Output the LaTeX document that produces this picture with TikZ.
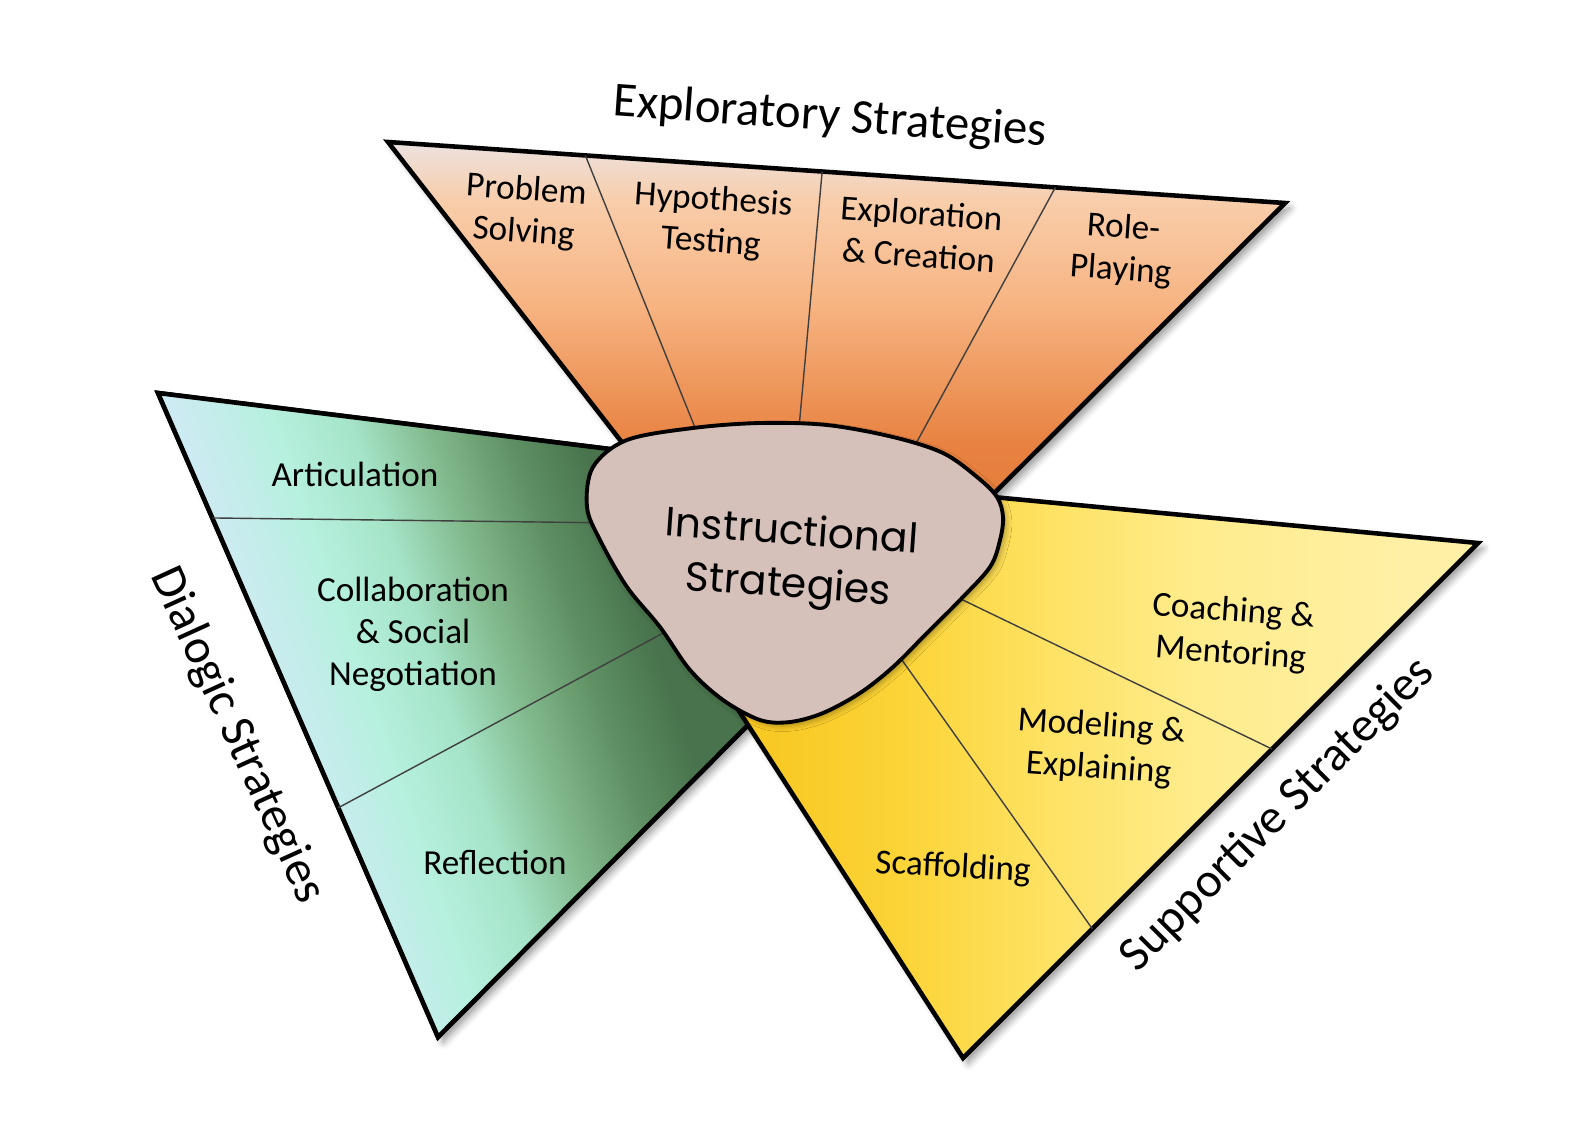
\documentclass[tikz,border=0pt]{standalone}
\usepackage{fontspec}
\setmainfont{Carlito}
\newfontfamily\poppinsfont{Poppins}
\usetikzlibrary{calc,shadows.blur}

\definecolor{orA}{RGB}{222,108,38}
\definecolor{orB}{RGB}{232,130,65}
\definecolor{orC}{RGB}{247,180,130}
\definecolor{orD}{RGB}{248,205,170}
\definecolor{orE}{RGB}{236,226,224}
\definecolor{grA}{RGB}{205,235,242}
\definecolor{grB}{RGB}{182,240,222}
\definecolor{grC}{RGB}{165,228,200}
\definecolor{grD}{RGB}{130,185,140}
\definecolor{grE}{RGB}{95,145,100}
\definecolor{grF}{RGB}{72,115,76}
\definecolor{ywA}{RGB}{248,200,35}
\definecolor{ywB}{RGB}{251,212,55}
\definecolor{ywC}{RGB}{254,226,100}
\definecolor{ywD}{RGB}{255,236,140}
\definecolor{ywE}{RGB}{255,240,165}
\definecolor{hubfill}{RGB}{213,192,186}

\pgfdeclareverticalshading{orangeshade}{100bp}{color(0bp)=(orA); color(25bp)=(orA); color(47bp)=(orB); color(60bp)=(orC); color(69.5bp)=(orD); color(75bp)=(orE); color(100bp)=(orE)}
\pgfdeclarehorizontalshading{greenshade}{100bp}{color(0bp)=(grA); color(40bp)=(grA); color(45bp)=(grB); color(49bp)=(grC); color(53bp)=(grD); color(57bp)=(grE); color(61bp)=(grF); color(100bp)=(grF)}
\pgfdeclarehorizontalshading{yellowshade}{100bp}{color(0bp)=(ywA); color(29bp)=(ywA); color(38bp)=(ywB); color(47.5bp)=(ywC); color(57bp)=(ywD); color(70bp)=(ywE); color(100bp)=(ywE)}

\newcommand\dialogicwing{(gT) -- (650,454) -- (790,683) -- (nk) -- (gB) -- cycle}

\begin{document}
\begin{tikzpicture}[x=0.01cm, y=-0.01cm,
    wing/.style={draw=black, line width=1.3pt, line join=miter,
        blur shadow={shadow xshift=1.5pt, shadow yshift=-1.5pt, shadow blur radius=2pt, shadow opacity=40}},
    sep/.style={draw=black!75, line width=0.4pt},
    lbl/.style={align=center, font=\fontsize{10}{12}\selectfont, inner sep=0pt},
    ttl/.style={font=\fontsize{13.9}{16}\selectfont, inner sep=0pt},
    hub/.style={draw=black, line width=1.1pt, fill=hubfill,
        blur shadow={shadow xshift=1pt, shadow yshift=-1pt, shadow blur radius=1.5pt, shadow opacity=30}}
]
\useasboundingbox (0,0) rectangle (1574,1130);

\coordinate (oL) at (388,142);
\coordinate (oR) at (1285,203);
\coordinate (oT) at (807,680);
\coordinate (gT) at (158,393);
\coordinate (gB) at (438,1037);
\coordinate (nk) at (748,725);
\coordinate (yR) at (1478,543);
\coordinate (yB) at (963,1058);

\path[wing, shade, shading=orangeshade] (oL) -- (oR) -- (oT) -- cycle;

\path[wing, fill=grA] \dialogicwing;
\begin{scope}
  \clip \dialogicwing;
  \shade[shading=greenshade, transform canvas={rotate around={19:(470,715)}}] (20,215) rectangle (920,1215);
\end{scope}
\draw[line width=1.3pt, line join=miter] \dialogicwing;

\path[wing, shade, shading=yellowshade] (yR) -- (yB) -- (nk) -- (700,650) -- (940,492) -- cycle;

\draw[sep] ($(oL)!0.22!(oR)$) -- (704,450);
\draw[sep] ($(oL)!0.484!(oR)$) -- (797,450);
\draw[sep] ($(oL)!0.744!(oR)$) -- (907,460);
\draw[sep] ($(gT)!0.194!(gB)$) -- (620,523);
\draw[sep] ($(gT)!0.644!(gB)$) -- (680,624);
\draw[sep] ($(yR)!0.40!(yB)$) -- (940,589);
\draw[sep] ($(yR)!0.749!(yB)$) -- (880,629);

\draw[hub] plot[smooth cycle, tension=0.55] coordinates {(587,507) (593,467) (627,440) (693,428) (760,423) (827,425) (893,437) (943,453) (977,477) (997,497) (1003,517) (1000,540) (990,567) (960,600) (927,633) (893,667) (860,693) (823,713) (790,722) (760,720) (723,700) (690,670) (660,627) (627,587) (600,540)};
\node[rotate=-4, align=center, font=\poppinsfont\fontsize{11.6}{15}\selectfont] (core) at (790,561) {Instructional\\Strategies};

\node[lbl, rotate=-4] (probsolv) at (525,212) {Problem\\Solving};
\node[lbl, rotate=-4] (hypotest) at (712,222) {Hypothesis\\Testing};
\node[lbl, rotate=-4] (explcrea) at (920,234) {Exploration\\\& Creation};
\node[lbl, rotate=-4] (roleplay) at (1122,250) {Role-\\Playing};
\node[lbl] (artic) at (355,474) {Articulation};
\node[lbl] (collab) at (413,634) {Collaboration\\\& Social\\Negotiation};
\node[lbl] (reflect) at (495,862) {Reflection};
\node[lbl, rotate=-4] (coach) at (1232,633) {Coaching \&\\Mentoring};
\node[lbl, rotate=-4] (model) at (1100,748) {Modeling \&\\Explaining};
\node[lbl, rotate=-3] (scaff) at (953,868) {Scaffolding};

\node[ttl, rotate=-4] (exploratory) at (830,118) {Exploratory Strategies};
\node[ttl, rotate=-65.5] (dialogic) at (237,735) {Dialogic Strategies};
\node[ttl, rotate=45] (supportive) at (1278,815) {Supportive Strategies};
\end{tikzpicture}
\end{document}
